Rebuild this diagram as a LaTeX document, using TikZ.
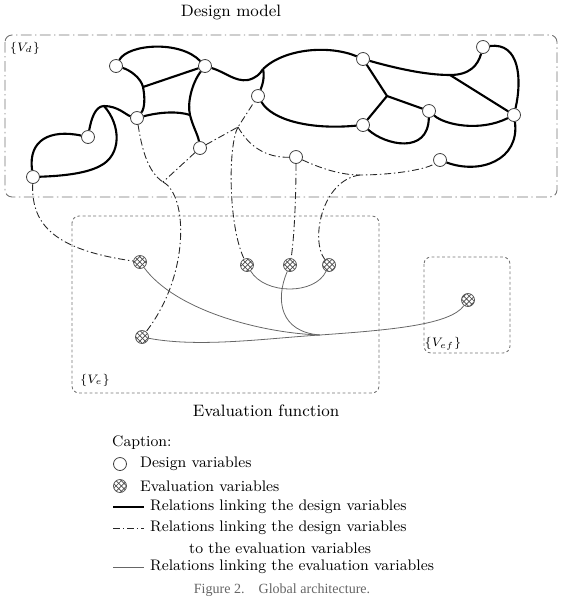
\documentclass[tikz,border=0pt]{standalone}
\usepackage{fontspec}
\newfontfamily\figcapfont{Liberation Serif}
\usetikzlibrary{patterns}

\begin{document}
\begin{tikzpicture}[x=0.02cm, y=-0.02cm,
        dvar/.style={circle, draw=black!75, fill=white, line width=0.45pt, minimum size=7.4pt, inner sep=0pt},
        evar/.style={circle, draw=black!65, line width=0.45pt, pattern=crosshatch, pattern color=black!70, minimum size=7.4pt, inner sep=0pt},
        rel/.style={line width=1.2pt},
        link/.style={line width=0.5pt, black!85, dash pattern=on 4pt off 1.6pt on 0.8pt off 1.6pt},
        erel/.style={line width=0.45pt, black!60},
        dmbox/.style={black!55, line width=0.5pt, dash pattern=on 6pt off 2pt on 0.8pt off 2pt, rounded corners=4pt},
        efbox/.style={black!55, line width=0.5pt, dash pattern=on 1.6pt off 1.4pt, rounded corners=4pt},
        heading/.style={font=\fontsize{9.4}{11}\selectfont},
        setlabel/.style={font=\fontsize{7}{8}\selectfont},
        lgtext/.style={anchor=west, font=\fontsize{8.7}{11}\selectfont}]
        \useasboundingbox (0,0) rectangle (562,602);

        \node [heading] (dmtitle) at (231,12) {Design model};
        \draw [dmbox] (5,35) rectangle (557,197);
        \node [setlabel] (vd) at (25,48) {$\{V_d\}$};

        \draw [efbox] (72,216) rectangle (379,393);
        \draw [efbox] (424,257) rectangle (510,353);
        \node [setlabel] (ve) at (95,380) {$\{V_e\}$};
        \node [setlabel] (vef) at (443,344) {$\{V_{ef}\}$};
        \node [heading] (eftitle) at (266,411) {Evaluation function};

        \node [dvar] (dv1) at (116,66) {};
        \node [dvar] (dv2) at (205,66) {};
        \node [dvar] (dv3) at (137,118) {};
        \node [dvar] (dv4) at (258,96) {};
        \node [dvar] (dv5) at (88,137) {};
        \node [dvar] (dv6) at (200,148) {};
        \node [dvar] (dv7) at (33,177) {};
        \node [dvar] (dv8) at (296,157) {};
        \node [dvar] (dv9) at (363,59) {};
        \node [dvar] (dv10) at (483,47) {};
        \node [dvar] (dv11) at (429,111) {};
        \node [dvar] (dv12) at (363,125) {};
        \node [dvar] (dv13) at (514,115) {};
        \node [dvar] (dv14) at (440,160) {};

        \node [evar] (ev1) at (140,262) {};
        \node [evar] (ev2) at (142,337) {};
        \node [evar] (ev3) at (247,265) {};
        \node [evar] (ev4) at (290,265) {};
        \node [evar] (ev5) at (329,265) {};
        \node [evar] (ev6) at (468,300) {};

        \coordinate (j1) at (143,87);
        \coordinate (j2) at (190,115);
        \coordinate (j3) at (104,106);
        \coordinate (j4) at (263,69);
        \coordinate (j5) at (387,96);
        \coordinate (j6) at (450,75);
        \coordinate (j7) at (163,182);
        \coordinate (j8) at (238,127);
        \coordinate (j9) at (360,175);
        \coordinate (hub) at (320,335);

        \draw [rel] (dv1) .. controls (128,44) and (180,40) .. (dv2);
        \draw [rel] (dv1) .. controls (130,70) and (141,78) .. (j1) .. controls (145,97) and (145,108) .. (dv3);
        \draw [rel] (j1) -- (dv2);
        \draw [rel] (dv2) .. controls (192,83) and (187,103) .. (j2) .. controls (193,127) and (198,135) .. (dv6);
        \draw [rel] (dv3) .. controls (160,112) and (178,111) .. (j2);
        \draw [rel] (dv7) .. controls (28,140) and (50,129) .. (dv5);
        \draw [rel] (dv5) .. controls (91,120) and (95,106) .. (j3);
        \draw [rel] (j3) .. controls (118,106) and (126,115) .. (dv3);
        \draw [rel] (j3) .. controls (121,125) and (122,155) .. (100,166) .. controls (85,174) and (60,176) .. (dv7);
        \draw [rel] (dv2) .. controls (225,72) and (235,82) .. (248,80) .. controls (256,78) and (260,74) .. (j4);
        \draw [rel] (j4) .. controls (265,78) and (262,86) .. (dv4);
        \draw [rel] (j4) .. controls (285,48) and (330,45) .. (dv9);
        \draw [rel] (dv4) .. controls (272,120) and (310,130) .. (dv12);
        \draw [rel] (dv9) -- (j5) -- (dv12);
        \draw [rel] (j5) -- (dv11);
        \draw [rel] (dv9) .. controls (395,68) and (425,75) .. (j6) .. controls (470,75) and (478,65) .. (dv10);
        \draw [rel] (j6) -- (dv13);
        \draw [rel] (dv10) .. controls (520,42) and (522,80) .. (dv13);
        \draw [rel] (dv11) .. controls (445,125) and (480,132) .. (dv13);
        \draw [rel] (dv12) .. controls (385,145) and (428,155) .. (dv11);
        \draw [rel] (dv13) .. controls (520,160) and (480,175) .. (dv14);

        \draw [link] (dv7) .. controls (31,225) and (55,250) .. (ev1);
        \draw [link] (dv3) .. controls (142,150) and (148,172) .. (j7);
        \draw [link] (dv6) -- (j7);
        \draw [link] (j7) .. controls (188,195) and (190,275) .. (ev2);
        \draw [link] (dv6) -- (j8) -- (dv4);
        \draw [link] (j8) .. controls (228,145) and (228,225) .. (ev3);
        \draw [link] (j8) .. controls (248,145) and (265,158) .. (dv8);
        \draw [link] (dv8) .. controls (296,200) and (294,240) .. (ev4);
        \draw [link] (dv8) .. controls (320,168) and (340,175) .. (j9) .. controls (390,175) and (425,170) .. (dv14);
        \draw [link] (j9) .. controls (322,180) and (310,240) .. (ev5);

        \draw [erel] (ev1) .. controls (175,310) and (260,333) .. (hub);
        \draw [erel] (ev2) .. controls (200,348) and (270,338) .. (hub);
        \draw [erel] (ev4) .. controls (275,300) and (280,332) .. (hub);
        \draw [erel] (hub) .. controls (390,330) and (450,325) .. (ev6);
        \draw [erel] (ev3) .. controls (265,295) and (315,295) .. (ev5);

        \node [lgtext] (cap) at (106,443) {Caption:};
        \node [dvar] (lgdv) at (120,464) {};
        \node [lgtext] (lgdvt) at (134,464) {Design variables};
        \node [evar] (lgev) at (120,486) {};
        \node [lgtext] (lgevt) at (134,486) {Evaluation variables};
        \coordinate (lg1) at (113,507);
        \node [lgtext] (lgrel) at (144,507) {Relations linking the design variables};
        \draw [rel] (lg1) -- (lgrel.west);
        \coordinate (lg2) at (113,528);
        \node [lgtext] (lglink) at (144,528) {Relations linking the design variables};
        \draw [link] (lg2) -- (lglink.west);
        \node [lgtext] (lglink2) at (183,548) {to the evaluation variables};
        \coordinate (lg3) at (113,567);
        \node [lgtext] (lgerel) at (144,567) {Relations linking the evaluation variables};
        \draw [erel] (lg3) -- (lgerel.west);

        \node [text=black!60, font=\figcapfont\fontsize{8}{9}\selectfont] (figcap) at (282,590) {Figure 2.\quad Global architecture.};
    \end{tikzpicture}
\end{document}
